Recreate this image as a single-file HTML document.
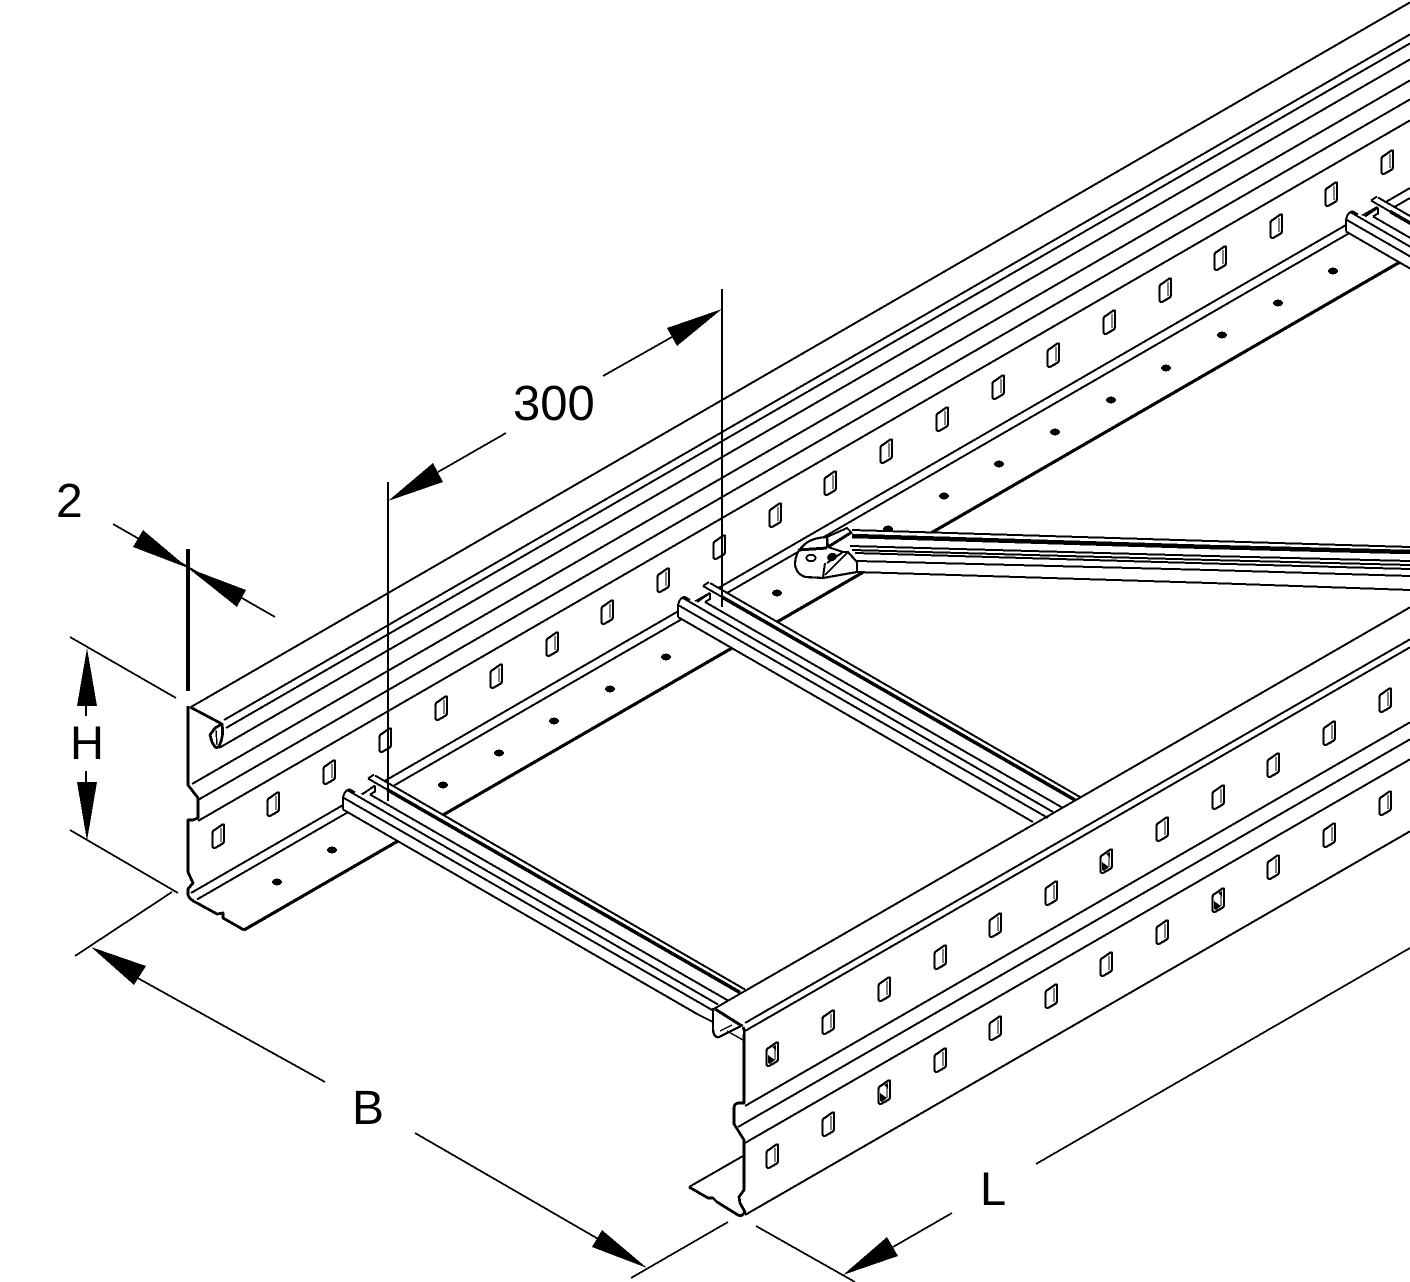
<!DOCTYPE html>
<html>
<head>
<meta charset="utf-8">
<title>Cable ladder diagram</title>
<style>
html,body{margin:0;padding:0;background:#fff;}
svg{display:block;}
text{font-family:"Liberation Sans",Arial,sans-serif;font-size:47px;fill:#000;}
</style>
</head>
<body>
<svg width="1410" height="1282" viewBox="0 0 1410 1282" xmlns="http://www.w3.org/2000/svg">
<defs>
<g id="h">
<path d="M6,-12 L6,5 Q6,7 4,8 L-2,11.5 Q-5.5,13 -5.5,9.5 L-5.5,-3 Q-5.5,-5 -3.5,-6 L3,-10.5 Q6,-13 6,-10 Z" fill="#fff" stroke="#000" stroke-width="2.2"/>
<path d="M3,-8 L3,6" fill="none" stroke="#000" stroke-width="1"/>
</g>
<g id="hd">
<use href="#h"/>
<path d="M-4,1 L3,6 L-2,10 L-4,9 Z M0,-7 L4,-9 L4,-3 Z" fill="#000"/>
</g>
<ellipse id="d" rx="5" ry="3.4" fill="#000"/>
<g id="rung">
<polygon points="678,605 683,597 697,602 710,593 703,586 710,583 1080,797 1033,822 678,617" fill="#fff"/>
<g fill="none" stroke="#000" stroke-width="2">
<path d="M710,583 L1080,797"/>
<path d="M703,586 L722,597"/>
<path d="M722,597 L1075,800" stroke-width="3.6"/>
<path d="M705,602 L1063,808"/>
<path d="M683,598 L1053,812"/>
<path d="M678,605 L1048,818"/>
<path d="M678,617 L1033,822"/>
<path d="M678,605 L678,617 M678,605 Q680,597 685,597 L690,600"/>
<path d="M703,586 L709,582 M710,593 L710,600 M697,602 L710,593 M705,602 L710,599"/>
</g>
</g>
</defs>

<rect width="1410" height="1282" fill="#fff"/>

<g shape-rendering="crispEdges">
<!-- floor dots of left rail -->
<g>
<use href="#d" x="277" y="882"/><use href="#d" x="332" y="850"/><use href="#d" x="443" y="785"/>
<use href="#d" x="499" y="753"/><use href="#d" x="554" y="721"/><use href="#d" x="610" y="689"/>
<use href="#d" x="666" y="657"/><use href="#d" x="777" y="593"/><use href="#d" x="888" y="529"/>
<use href="#d" x="944" y="496"/><use href="#d" x="999" y="464"/><use href="#d" x="1055" y="432"/>
<use href="#d" x="1111" y="400"/><use href="#d" x="1166" y="368"/><use href="#d" x="1222" y="335"/>
<use href="#d" x="1278" y="303"/><use href="#d" x="1333" y="271"/>
</g>

<!-- left rail lines -->
<g fill="none" stroke="#000" stroke-width="2">
<path d="M191,707 L1410,2.4"/>
<path d="M224,720 L1410,34.4"/>
<path d="M226,728 L1410,43.4"/>
<path d="M219,748 L1410,59.4"/>
<path d="M192,784 L1410,80.4"/>
<path d="M198,800 L1410,99.4"/>
<path d="M198,821 L1410,120.4"/>
<path d="M191,893 L1410,188"/>
<path d="M197,899.5 L1410,198"/>
<path d="M244,930 L1400,262" stroke-width="3.2"/>
</g>

<!-- left rail holes -->
<g>
<use href="#h" x="218" y="836"/><use href="#h" x="273" y="804"/><use href="#h" x="329" y="772"/>
<use href="#h" x="385" y="740"/><use href="#h" x="441" y="708"/><use href="#h" x="496" y="676"/>
<use href="#h" x="552" y="644"/><use href="#h" x="607" y="612"/><use href="#h" x="663" y="580"/>
<use href="#h" x="719" y="547"/><use href="#h" x="775" y="515"/><use href="#h" x="830" y="483"/>
<use href="#h" x="886" y="451"/><use href="#h" x="942" y="419"/><use href="#h" x="998" y="387"/>
<use href="#h" x="1053" y="355"/><use href="#h" x="1109" y="322"/><use href="#h" x="1165" y="290"/>
<use href="#h" x="1220" y="258"/><use href="#h" x="1276" y="226"/><use href="#h" x="1331" y="194"/>
<use href="#h" x="1387" y="162"/>
</g>

<!-- left rail profile -->
<g fill="none" stroke="#000" stroke-width="2.8" stroke-linejoin="round">
<path d="M188,706 L188,785 L198,798 L198,818 L193,820 L188,820 L188,872 L193,883 L188,889 L188,895 Q190,900 197,903 L217,914 L223,913 L223,918 L244,930"/>
<path d="M190,707 L222,724 Q224,735 220,744 Q218,749 215,747 L212,742 L210,735 L215,728 L222,724"/>
<path d="M216,730 L217,745" stroke-width="1.4"/>
</g>

<!-- diagonal arm connector -->
<polygon points="852,530 1410,547 1410,590 857,572" fill="#fff"/>
<g fill="none" stroke="#000" stroke-width="2">
<path d="M852,530 L1210,541 L1410,547"/>
<path d="M852,536 L1210,547 L1410,552" stroke-width="4.5"/>
<path d="M850,546 L1210,556 L1410,561"/>
<path d="M852,550 L1210,560 L1410,565"/>
<path d="M855,553 L1210,563.5 L1410,569"/>
<path d="M857,561 L1210,570 L1410,576"/>
<path d="M857,572 L1210,583 L1410,590"/>
</g>
<path d="M827,537 Q810,538 803,546 Q795,553 795,565 Q797,575 806,577 L823,578 L857,572 L857,562 L848,552 L843,552 L828,547 Z" fill="#fff" stroke="#000" stroke-width="2.2"/>
<g fill="none" stroke="#000" stroke-width="2">
<path d="M798,550 L827,548" stroke-width="3"/>
<path d="M827,537 L827,548 M825,563 L823,577 M825,575 L848,552 L857,562 M827,563 L843,552"/>
<path d="M828,547 L852,532" stroke-width="3"/>
<path d="M827,537 L847,528 L852,533"/>
</g>
<ellipse cx="811" cy="558" rx="4.5" ry="3.2" fill="#fff" stroke="#000" stroke-width="2"/>
<ellipse cx="832" cy="557" rx="5" ry="4" fill="#000" transform="rotate(-25 832 557)"/>

<!-- rungs -->
<use href="#rung" transform="translate(668,-385.5)"/>
<use href="#rung"/>
<use href="#rung" transform="translate(-335,192.5)"/>
<path d="M698,1014.5 L713,1022" fill="none" stroke="#000" stroke-width="2"/>

<!-- right rail lines -->
<g fill="none" stroke="#000" stroke-width="2">
<path d="M713,1009.4 L1410,607.3"/>
<path d="M745,1023 L1410,639.3"/>
<path d="M745,1031 L1410,647.3"/>
<path d="M745,1106 L1410,722.3"/>
<path d="M738,1127 L1410,739.3"/>
<path d="M745,1143 L1410,759.3"/>
<path d="M745,1215 L1410,831.3"/>
<path d="M689,1187 L743,1156"/>
</g>

<!-- right rail holes -->
<g>
<use href="#hd" x="772" y="1054"/><use href="#h" x="828" y="1022"/><use href="#h" x="884" y="989"/>
<use href="#h" x="940" y="957"/><use href="#h" x="995" y="925"/><use href="#h" x="1051" y="893"/>
<use href="#hd" x="1106" y="861"/><use href="#h" x="1162" y="829"/><use href="#h" x="1218" y="797"/>
<use href="#h" x="1273" y="765"/><use href="#h" x="1329" y="733"/><use href="#h" x="1385" y="700"/>
<use href="#h" x="772" y="1156"/><use href="#h" x="828" y="1124"/><use href="#hd" x="884" y="1092"/>
<use href="#h" x="940" y="1060"/><use href="#h" x="995" y="1028"/><use href="#h" x="1051" y="996"/>
<use href="#h" x="1106" y="964"/><use href="#h" x="1162" y="932"/><use href="#hd" x="1218" y="900"/>
<use href="#h" x="1273" y="867"/><use href="#h" x="1329" y="835"/><use href="#h" x="1385" y="803"/>
</g>

<!-- right rail end profile -->
<polygon points="713,1009 743,1026 743,1040 713,1030" fill="#fff"/>
<g fill="none" stroke="#000" stroke-linejoin="round">
<path d="M743,1027 Q745,1030 744,1036 L744,1103 L738,1103 Q734,1104 734,1108 L734,1124 L744,1140 L744,1190 L739,1197 L740,1203 L745,1212 Q742,1217 738,1215 L717,1202 L713,1198 L708,1198 L689,1187" stroke-width="2.8"/>
<path d="M715,1009 L742,1026" stroke-width="3"/>
<path d="M713,1008 L713,1030 Q714,1038 719,1037 L743,1025" stroke-width="2.4"/>
<path d="M720,1031 L732,1025 M727,1031 L743,1040" stroke-width="1.4"/>
</g>

<!-- dimension lines -->
<g fill="none" stroke="#000" stroke-width="1.8">
<path d="M113,524 L275,617"/>
<path d="M70,637 L176,698"/>
<path d="M70,830 L178,893"/>
<path d="M172,892 L75,956"/>
<path d="M134,976 L325,1082"/>
<path d="M415,1133 L600,1240"/>
<path d="M728,1222 L631,1278"/>
<path d="M756,1226 L855,1282"/>
<path d="M893,1247 L952,1213"/>
<path d="M1036,1164 L1410,948"/>
<path d="M438,472 L506,433"/>
<path d="M603,376 L672,337"/>
<path d="M388,482 L388,801"/>
<path d="M722,289 L722,607"/>
<path d="M86,706 L86,716"/>
<path d="M86,771 L86,782"/>
<path d="M188,549 L188,691" stroke-width="3.6"/>
</g>
<g fill="#000">
<polygon points="188,568 143,530 133,547"/>
<polygon points="188,568 246,590 237,607"/>
<polygon points="87,648 77,706 97,706"/>
<polygon points="87,841 77,782 97,782"/>
<polygon points="91,947 146,966 134,985"/>
<polygon points="647,1268 602,1230 592,1247"/>
<polygon points="843,1275 887,1237 898,1256"/>
<polygon points="388,501 433,463 443,482"/>
<polygon points="722,309 667,328 677,346"/>
</g>
</g>

<text x="56" y="517" style="font-size:48px">2</text>
<text x="513" y="420" style="font-size:49px">300</text>
<text x="70" y="759">H</text>
<text x="352" y="1124" style="font-size:48px">B</text>
<text x="980" y="1205">L</text>
</svg>
</body>
</html>
